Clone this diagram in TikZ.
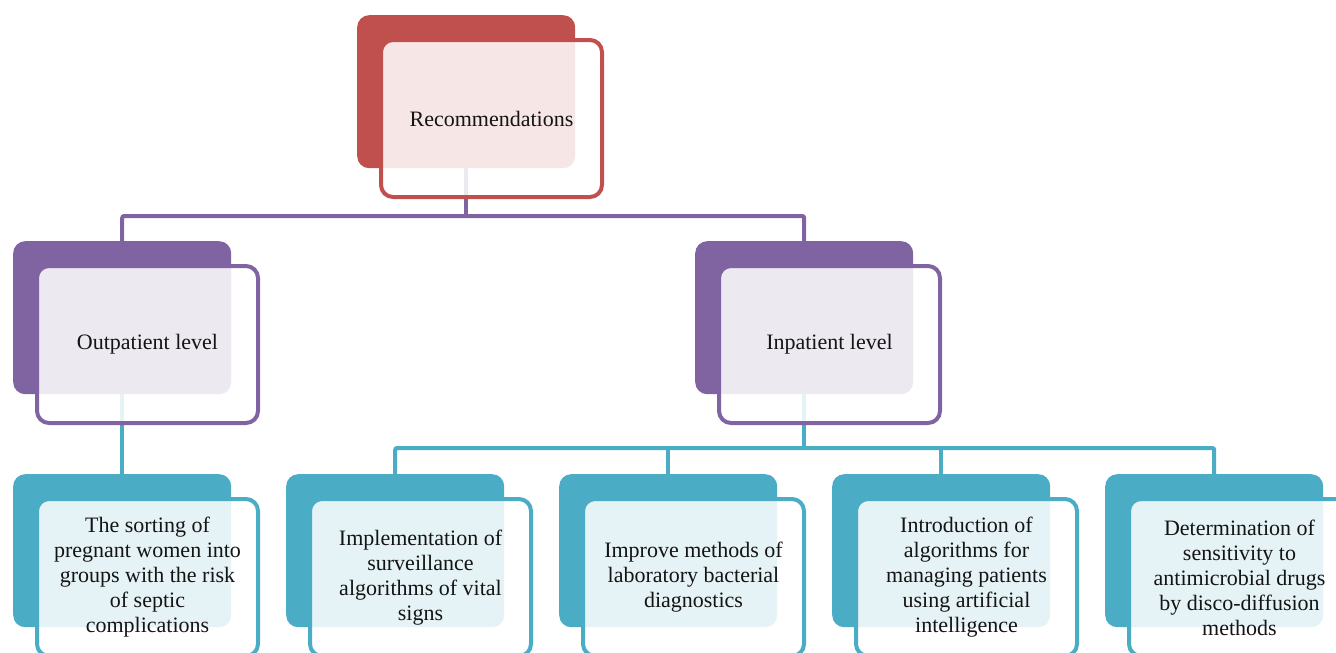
\documentclass[tikz,border=0pt]{standalone}
\usepackage{fontspec}
\setmainfont{Liberation Serif}
\pgfdeclarelayer{bg}
\pgfsetlayers{bg,main}
\definecolor{cred}{HTML}{C0504D}
\definecolor{cpurple}{HTML}{8064A2}
\definecolor{cteal}{HTML}{4BACC6}
\tikzset{
  backbox/.style={fill=#1, draw=none, rounded corners=12pt, inner sep=0pt,
    minimum width=218pt, minimum height=153pt, anchor=north west},
  frontbox/.style={draw=#1, line width=4pt, fill=white, fill opacity=0.86,
    text opacity=1, rounded corners=12pt, inner sep=0pt,
    minimum width=221pt, minimum height=157pt, anchor=north west,
    align=center, text=black!92, font=\fontsize{22}{25}\selectfont},
  link/.style={draw=#1, line width=4pt, rounded corners=2pt},
}
\begin{document}
\begin{tikzpicture}[x=1pt,y=-1pt]
\useasboundingbox (0,0) rectangle (1336,653);
\clip (0,0) rectangle (1336,653);

% top level
\node[backbox=cred] (recb) at (357,15) {};
\node[frontbox=cred] (rec) at (379,38) {Recommendations};

% second level
\node[backbox=cpurple] (outb) at (13,241) {};
\node[frontbox=cpurple] (out) at (35,264) {Outpatient level};
\node[backbox=cpurple] (inb) at (695,241) {};
\node[frontbox=cpurple] (inp) at (717,264) {Inpatient level};

% third level
\node[backbox=cteal] (c1b) at (13,474) {};
\node[frontbox=cteal] (c1) at (35,497) {The sorting of\\pregnant women into\\groups with the risk\\of septic\\complications};
\node[backbox=cteal] (c2b) at (286,474) {};
\node[frontbox=cteal] (c2) at (308,497) {Implementation of\\surveillance\\algorithms of vital\\signs};
\node[backbox=cteal] (c3b) at (559,474) {};
\node[frontbox=cteal] (c3) at (581,497) {Improve methods of\\laboratory bacterial\\diagnostics};
\node[backbox=cteal] (c4b) at (832,474) {};
\node[frontbox=cteal] (c4) at (854,497) {Introduction of\\algorithms for\\managing patients\\using artificial\\intelligence};
\node[backbox=cteal] (c5b) at (1105,474) {};
\node[frontbox=cteal] (c5) at (1127,497) {Determination of\\sensitivity to\\antimicrobial drugs\\by disco-diffusion\\methods};

\coordinate (barA) at (0,216);
\coordinate (barB) at (0,448);

\begin{pgfonlayer}{bg}
  % recommendations to the two levels
  \draw[link=cpurple] (recb.south) -- (recb.south |- barA);
  \draw[link=cpurple] (outb.north) -- (outb.north |- barA)
    -- (inb.north |- barA) -- (inb.north);
  % outpatient branch
  \draw[link=cteal] (outb.south) -- (c1b.north);
  % inpatient branches
  \draw[link=cteal] (inb.south) -- (inb.south |- barB);
  \draw[link=cteal] (c2b.north) -- (c2b.north |- barB)
    -- (c5b.north |- barB) -- (c5b.north);
  \draw[link=cteal] (c3b.north) -- (c3b.north |- barB);
  \draw[link=cteal] (c4b.north) -- (c4b.north |- barB);
\end{pgfonlayer}
\end{tikzpicture}
\end{document}
